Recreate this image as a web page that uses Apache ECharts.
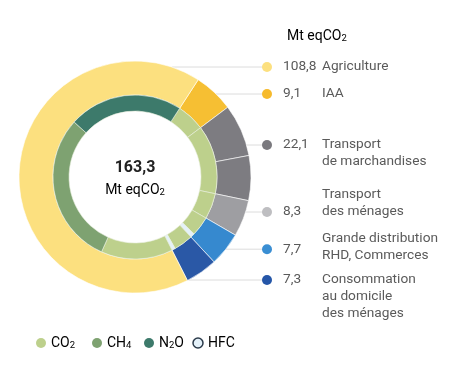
<!DOCTYPE html>
<html><head><meta charset="utf-8">
<script src="https://cdn.jsdelivr.net/npm/echarts@6/dist/echarts.min.js"></script>
<style>html,body{margin:0;padding:0;background:#fff}#c{width:456px;height:366px}</style>
</head><body><div id="c"></div>
<script>
// ---- data ----
const sectorNames = ['Agriculture', 'IAA', 'Transport de marchandises', 'Transport des ménages', 'Grande distribution RHD, Commerces', 'Consommation au domicile des ménages'];
const sectorValues = [108.8, 9.1, 22.1, 8.3, 7.7, 7.3];
const sectorValueLabels = ['108,8', '9,1', '22,1', '8,3', '7,7', '7,3'];
const sectorLabelLines = [['Agriculture'], ['IAA'], ['Transport', 'de marchandises'], ['Transport', 'des ménages'], ['Grande distribution', 'RHD, Commerces'], ['Consommation', 'au domicile', 'des ménages']];
// outer ring pieces, clockwise from IAA (freight transport drawn as two parts)
const outerPieceSector = ['IAA', 'Transport de marchandises', 'Transport de marchandises', 'Transport des ménages', 'Grande distribution RHD, Commerces', 'Consommation au domicile des ménages', 'Agriculture'];
const outerPieceValues = [9.1, 11.9, 10.2, 8.3, 7.7, 7.3, 108.8];
// inner ring: gas split, clockwise from IAA
const gasNames = ['CO2', 'CH4', 'N2O', 'HFC'];
const innerPieceGas = ['CO2', 'CO2', 'CO2', 'CO2', 'HFC', 'CO2', 'HFC', 'CO2', 'CH4', 'N2O'];
const innerPieceValues = [9.1, 22.1, 8.3, 6.3, 1.4, 6.2, 1.1, 23.1, 49.0, 36.7];
const totalLabel = '163,3';

// ---- style ----
const sectorColors = ['#FCE07F', '#F6BF33', '#7D7C81', '#9E9EA2', '#3689CF', '#2A58A6'];
const legendDotColors = ['#FCE07F', '#F6BA2C', '#7A797E', '#BEBEC1', '#3A8ED3', '#2556A8'];
const gasColors = {CO2: '#BDD08C', CH4: '#7EA271', N2O: '#3D7A6B', HFC: '#E4F1F9'};
const font = 'Roboto, "Liberation Sans", sans-serif';
const textColor = '#5a5a5a';
const cx = 135, cy = 177, R = 116, Rmid = 82, Rin = 66;

const chart = echarts.init(document.getElementById('c'), null, {renderer: 'canvas'});

const outerData = outerPieceValues.map((v, i) => ({
  name: outerPieceSector[i] + '#' + i, value: v,
  itemStyle: {color: sectorColors[sectorNames.indexOf(outerPieceSector[i])]}
}));
const innerData = innerPieceValues.map((v, i) => ({
  name: innerPieceGas[i] + '#' + i, value: v,
  itemStyle: {color: gasColors[innerPieceGas[i]]}
}));

// right-hand legend
const labelY = [67, 94, 145, 195, 239, 280];
const valueLine = [0, 0, 0, 1, 0.6, 0];
const lineH = 17;
const dotX = 267, valX = 283, nameX = 322;
const fs = 13.7;
const graphics = [];
sectorNames.forEach((n, i) => {
  const y = labelY[i] + valueLine[i] * lineH;
  const dy = y - cy;
  const x0 = cx + Math.sqrt(Math.max(0, R * R - dy * dy));
  graphics.push({type: 'line', z: 1, shape: {x1: x0, y1: y, x2: dotX, y2: y}, style: {stroke: '#dcdcdc', lineWidth: 1}});
  graphics.push({type: 'circle', z: 2, shape: {cx: dotX, cy: y, r: 5}, style: {fill: legendDotColors[i]}});
  graphics.push({type: 'text', z: 2, x: valX, y: y, style: {text: sectorValueLabels[i], font: fs + 'px ' + font, fill: textColor, verticalAlign: 'middle'}});
  sectorLabelLines[i].forEach((t, k) => {
    graphics.push({type: 'text', z: 2, x: nameX, y: labelY[i] + k * lineH, style: {text: t, font: fs + 'px ' + font, fill: textColor, verticalAlign: 'middle'}});
  });
});
// header unit
graphics.push({type: 'text', x: 287, y: 36, style: {
  text: '{a|Mt eqCO}{s|2}', verticalAlign: 'middle',
  rich: {a: {fontSize: 14, fontFamily: font, color: textColor}, s: {fontSize: 9.5, fontFamily: font, color: textColor, padding: [5, 0, 0, 0]}}
}});
// centre
graphics.push({type: 'text', x: cx, y: 168, style: {text: totalLabel, font: 'bold 16px ' + font, fill: '#222', align: 'center', verticalAlign: 'middle'}});
graphics.push({type: 'text', x: cx, y: 190, style: {
  text: '{a|Mt eqCO}{s|2}', align: 'center', verticalAlign: 'middle',
  rich: {a: {fontSize: 14, fontFamily: font, color: '#444'}, s: {fontSize: 9.5, fontFamily: font, color: '#444', padding: [5, 0, 0, 0]}}
}});
// bottom legend (gases)
const gasLegendX = [41, 97, 149, 198];
const gasLegendText = ['{a|CO}{s|2}', '{a|CH}{s|4}', '{a|N}{s|2}{a|O}', '{a|HFC}'];
gasNames.forEach((g, i) => {
  graphics.push({type: 'circle', shape: {cx: gasLegendX[i], cy: 343, r: 5}, style: {fill: gasColors[g], stroke: g === 'HFC' ? '#2b3a4a' : null, lineWidth: g === 'HFC' ? 1.5 : 0}});
  graphics.push({type: 'text', x: gasLegendX[i] + 10, y: 343, style: {
    text: gasLegendText[i], verticalAlign: 'middle',
    rich: {a: {fontSize: 14, fontFamily: font, color: textColor}, s: {fontSize: 9.5, fontFamily: font, color: textColor, padding: [5, 0, 0, 0]}}
  }});
});

chart.setOption({
  animation: false,
  series: [
    {type: 'pie', center: [cx, cy], radius: [Rmid, R], startAngle: 57, clockwise: true,
     label: {show: false}, labelLine: {show: false}, silent: true,
     itemStyle: {borderColor: '#ffffff', borderWidth: 0.6}, data: outerData},
    {type: 'pie', center: [cx, cy], radius: [Rin, Rmid], startAngle: 57, clockwise: true,
     label: {show: false}, labelLine: {show: false}, silent: true,
     itemStyle: {borderColor: '#e8eedd', borderWidth: 0.6}, data: innerData}
  ],
  graphic: graphics
});
</script></body></html>
